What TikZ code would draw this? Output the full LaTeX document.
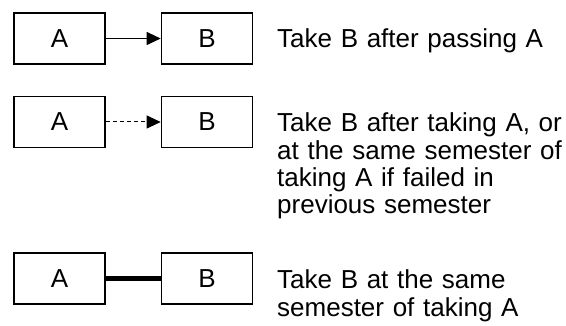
\documentclass[tikz,border=0pt]{standalone}
\usepackage{fontspec}
\setmainfont{Liberation Sans}
\usetikzlibrary{arrows.meta}
\begin{document}
\begin{tikzpicture}[x=1pt,y=-1pt,
  course/.style={draw=black,line width=1.6pt,minimum width=91pt,minimum height=51pt,inner sep=0pt,font=\fontsize{26}{28}\selectfont},
  note/.style={anchor=base west,inner sep=0pt,align=left,text width=290pt,font=\fontsize{26}{27.3}\selectfont},
  conn/.style={line width=1pt,-{Triangle[length=14pt,width=13pt]}},
  connd/.style={conn,dash pattern=on 4.5pt off 2.5pt},
  coreq/.style={line width=5pt}]
\useasboundingbox (0,0) rectangle (566,326);
\node[course] (a1) at (59.5,38.5) {A};
\node[course] (b1) at (207,38.5) {B};
\node[course] (a2) at (59.5,122) {A};
\node[course] (b2) at (207,122) {B};
\node[course] (a3) at (59.5,278.5) {A};
\node[course] (b3) at (207,278.5) {B};
\draw[conn] (a1) -- (b1);
\draw[connd] (a2) -- (b2);
\draw[coreq] (a3) -- (b3);
\node[note] (t1) at (277,48) {Take B after passing A};
\node[note] (t2) at (277,132) {Take B after taking A, or\\at the same semester of\\taking A if failed in\\previous semester};
\node[note] (t3) at (277,289) {Take B at the same\\semester of taking A};
\end{tikzpicture}
\end{document}
